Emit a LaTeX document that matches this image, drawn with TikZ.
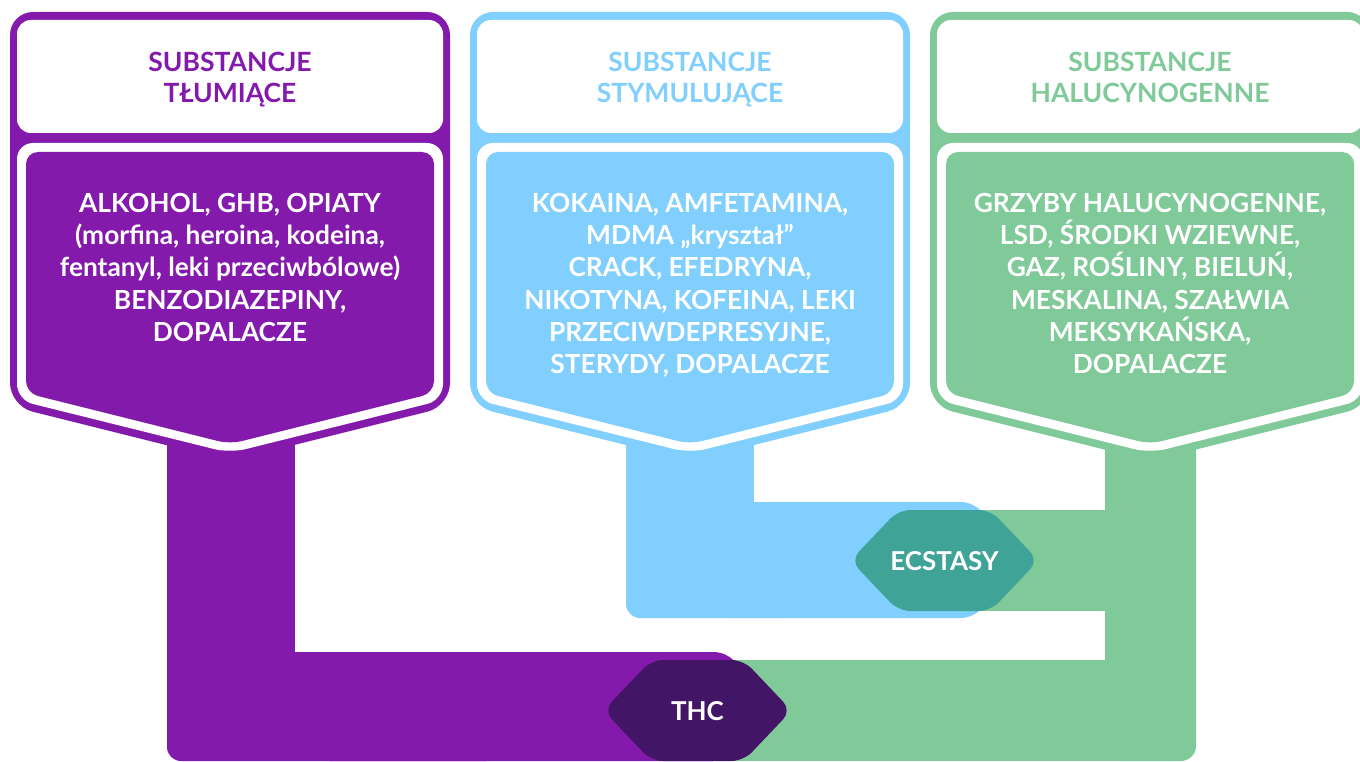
\documentclass[tikz,border=0pt]{standalone}
\usepackage{fontspec}
\setmainfont{Lato}
\definecolor{cpurple}{HTML}{841AAB}
\definecolor{cblue}{HTML}{80CFFE}
\definecolor{cgreen}{HTML}{80C999}
\definecolor{cthc}{HTML}{431566}
\definecolor{cecs}{HTML}{3FA398}
\begin{document}
\begin{tikzpicture}[x=1pt,y=-1pt,
  header/.style={font=\fontsize{26.5}{31}\selectfont\bfseries, align=center, anchor=north, inner sep=0pt},
  body/.style={font=\fontsize{26.3}{32.2}\selectfont\bfseries, align=center, anchor=north, inner sep=0pt, text=white},
  hexlabel/.style={font=\fontsize{26}{30}\selectfont\bfseries, text=white, inner sep=0pt}]
\useasboundingbox (0,0) rectangle (1360,762);
\clip (0,0) rectangle (1360,762);
% ---- green connector ----
\fill[cgreen, rounded corners=15] (1105,430) rectangle (1196,761);
\fill[cgreen] (944,510) rectangle (1150,611);
\fill[cgreen] (697,660) rectangle (1150,761);
% ---- blue connector ----
\fill[cblue] (626,430) rectangle (754,560);
\fill[cblue, rounded corners=14] (626,502) rectangle (800,618);
\fill[cblue, rounded corners=30] (700,502) rectangle (990,618);
% ---- purple connector ----
\fill[cpurple] (167,430) rectangle (295,700);
\fill[cpurple, rounded corners=14] (167,652) rectangle (500,761);
\fill[cpurple, rounded corners=30] (300,652) rectangle (743,761);
% ---- cards ----
\foreach \x/\c in {10/cpurple,470/cblue,930/cgreen}{
  \fill[\c, rounded corners=23] (\x,12) -- ++(440,0) -- ++(0,394) -- ++(-220,55) -- ++(-220,-55) -- cycle;
  \fill[white, rounded corners=14] (\x+7,20) rectangle (\x+433,133);
  \fill[white, rounded corners=16] (\x+7,143) -- (\x+433,143) -- (\x+433,400) -- (\x+220,453) -- (\x+7,400) -- cycle;
  \fill[\c, rounded corners=12] (\x+16,152) -- (\x+424,152) -- (\x+424,393) -- (\x+220,444) -- (\x+16,393) -- cycle;
}
% ---- hexagons ----
\fill[cecs, rounded corners=12] (898.5,510) -- (990.5,510) -- (1038.5,560.5) -- (990.5,611) -- (898.5,611) -- (850.5,560.5) -- cycle;
\fill[cthc, rounded corners=12] (651.5,660) -- (743.5,660) -- (791.5,710.5) -- (743.5,761) -- (651.5,761) -- (603.5,710.5) -- cycle;
\node[hexlabel] (ecs) at (944.5,561) {ECSTASY};
\node[hexlabel] (thc) at (697.5,711) {THC};
% ---- texts ----
\node[header, text=cpurple] (h1) at (230,52) {SUBSTANCJE\\TŁUMIĄCE};
\node[header, text=cblue] (h2) at (690,52) {SUBSTANCJE\\STYMULUJĄCE};
\node[header, text=cgreen] (h3) at (1150,52) {SUBSTANCJE\\HALUCYNOGENNE};
\node[body] (b1) at (230,193) {ALKOHOL, GHB, OPIATY\\(morfina, heroina, kodeina,\\fentanyl, leki przeciwbólowe)\\BENZODIAZEPINY,\\DOPALACZE};
\node[body] (b2) at (690,193) {KOKAINA, AMFETAMINA,\\MDMA „kryształ”\\CRACK, EFEDRYNA,\\NIKOTYNA, KOFEINA, LEKI\\PRZECIWDEPRESYJNE,\\STERYDY, DOPALACZE};
\node[body] (b3) at (1150,193) {GRZYBY HALUCYNOGENNE,\\LSD, ŚRODKI WZIEWNE,\\GAZ, ROŚLINY, BIELUŃ,\\MESKALINA, SZAŁWIA\\MEKSYKAŃSKA,\\DOPALACZE};
\end{tikzpicture}
\end{document}
